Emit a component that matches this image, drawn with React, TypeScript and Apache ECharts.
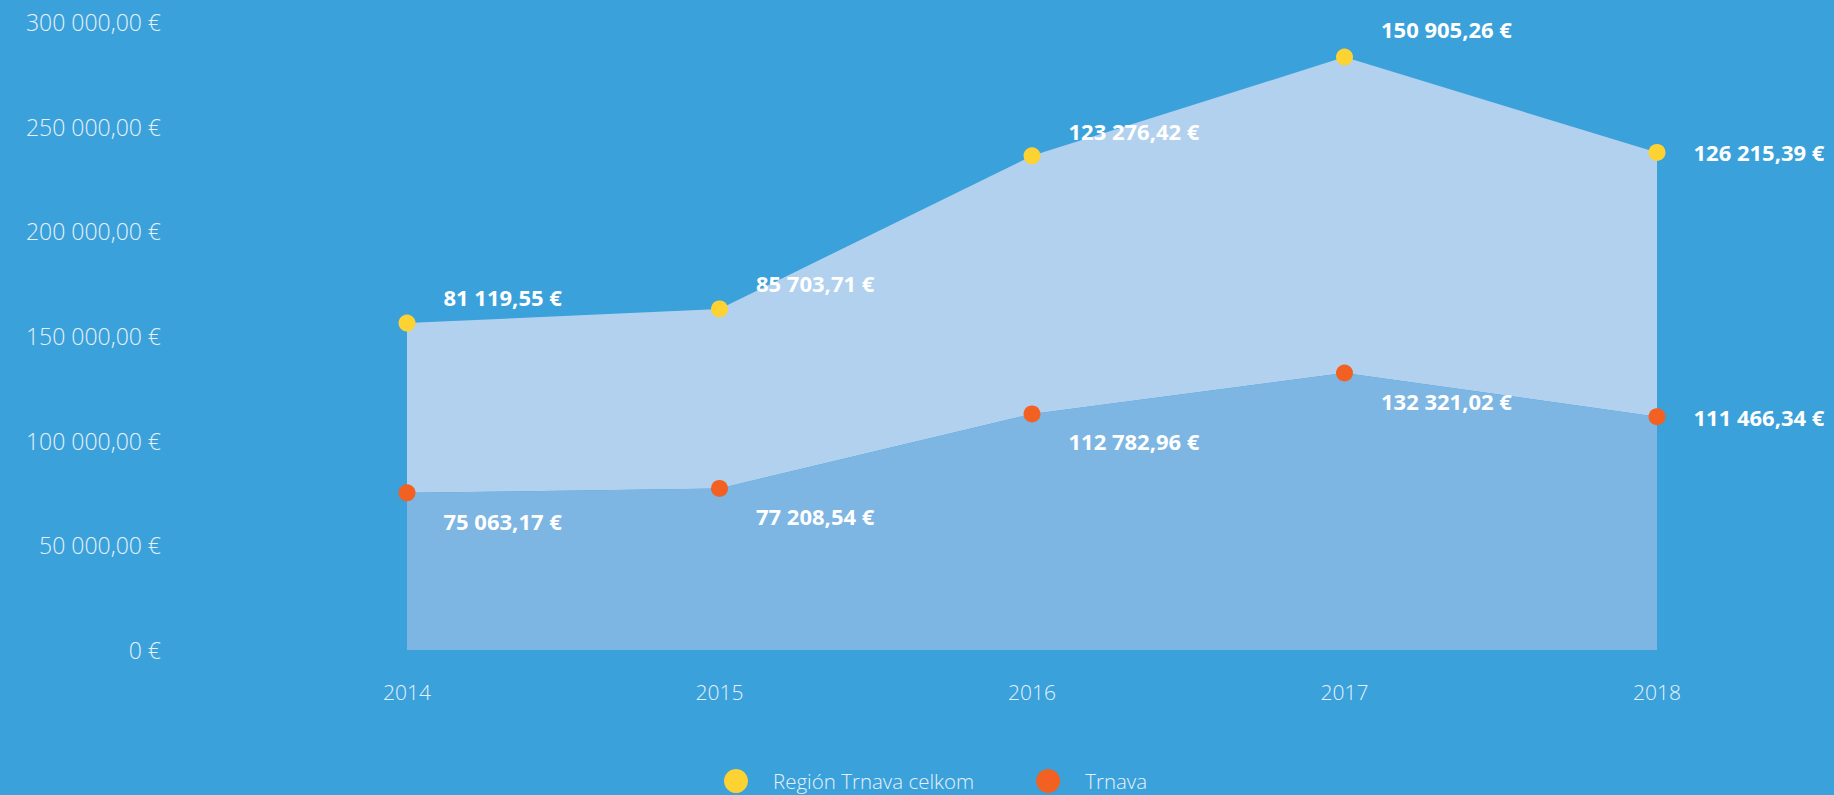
import React, { useEffect, useRef } from "react";
import * as echarts from "echarts";

const years = ["2014", "2015", "2016", "2017", "2018"];
const trnava = [75063.17, 77208.54, 112782.96, 132321.02, 111466.34];
const regionRest = [81119.55, 85703.71, 123276.42, 150905.26, 126215.39];
const yTicks = [0, 50000, 100000, 150000, 200000, 250000, 300000];
const seriesNames = ["Región Trnava celkom", "Trnava"];

const topLabelDy = [-26, -26, -25, -28, 0];
const bottomLabelDy = [28, 28, 27, 28, 0];

function fmt(v: number): string {
  const fixed = v.toFixed(2);
  const [intPart, dec] = fixed.split(".");
  const withSpaces = intPart.replace(/\B(?=(\d{3})+(?!\d))/g, " ");
  return withSpaces + "," + dec + " €";
}

const FONT = "'Open Sans', Lato, sans-serif";

export default function App() {
  const ref = useRef<HTMLDivElement>(null);
  useEffect(() => {
    document.body.style.margin = "0";
    document.body.style.background = "#3BA1DB";
    const chart = echarts.init(ref.current!, null, { renderer: "svg" });
    const labelBase = {
      show: true,
      position: "right" as const,
      distance: 28,
      color: "#ffffff",
      fontFamily: FONT,
      fontWeight: "bold" as const,
      fontSize: 22,
    };
    chart.setOption({
      animation: false,
      backgroundColor: "#3BA1DB",
      grid: { left: 407, right: 177, top: 22, bottom: 145, containLabel: false },
      legend: {
        left: 719,
        top: 764,
        icon: "circle",
        itemWidth: 24,
        itemHeight: 24,
        itemGap: 62,
        textStyle: { color: "#E6F1FA", fontFamily: FONT, fontWeight: 300, fontSize: 20.5, lineHeight: 22, padding: [0, 0, 0, 20] },
        data: [
          { name: seriesNames[0], itemStyle: { color: "#FDD233" } },
          { name: seriesNames[1], itemStyle: { color: "#F26122" } },
        ],
      },
      xAxis: {
        type: "category",
        data: years,
        boundaryGap: false,
        axisLine: { show: false },
        axisTick: { show: false },
        splitLine: { show: false },
        axisLabel: { color: "#E6F1FA", fontFamily: FONT, fontWeight: 300, fontSize: 21, margin: 31 },
      },
      yAxis: {
        type: "value",
        min: yTicks[0],
        max: yTicks[yTicks.length - 1],
        interval: 50000,
        axisLine: { show: false },
        axisTick: { show: false },
        splitLine: { show: false },
        axisLabel: {
          color: "#E6F1FA",
          fontFamily: FONT,
          fontWeight: 300,
          fontSize: 23,
          margin: 246,
          formatter: (v: number) => (v === 0 ? "0 €" : fmt(v)),
        },
      },
      series: [
        {
          name: seriesNames[1],
          type: "line",
          stack: "total",
          data: trnava.map((v, i) => ({ value: v, label: { offset: [0, bottomLabelDy[i]] } })),
          symbol: "circle",
          symbolSize: 17,
          itemStyle: { color: "#F26122" },
          lineStyle: { width: 0 },
          areaStyle: { color: "#7DB6E3", opacity: 1 },
          label: { ...labelBase, formatter: (p: any) => fmt(p.value) },
          z: 3,
        },
        {
          name: seriesNames[0],
          type: "line",
          stack: "total",
          data: regionRest.map((v, i) => ({ value: v, label: { offset: [0, topLabelDy[i]] } })),
          symbol: "circle",
          symbolSize: 17,
          itemStyle: { color: "#FDD233" },
          lineStyle: { width: 0 },
          areaStyle: { color: "#B2D1EE", opacity: 1 },
          label: { ...labelBase, formatter: (p: any) => fmt(p.value) },
          z: 2,
        },
      ],
    });
    return () => chart.dispose();
  }, []);
  return <div ref={ref} style={{ width: 1834, height: 795, background: "#3BA1DB" }} />;
}
